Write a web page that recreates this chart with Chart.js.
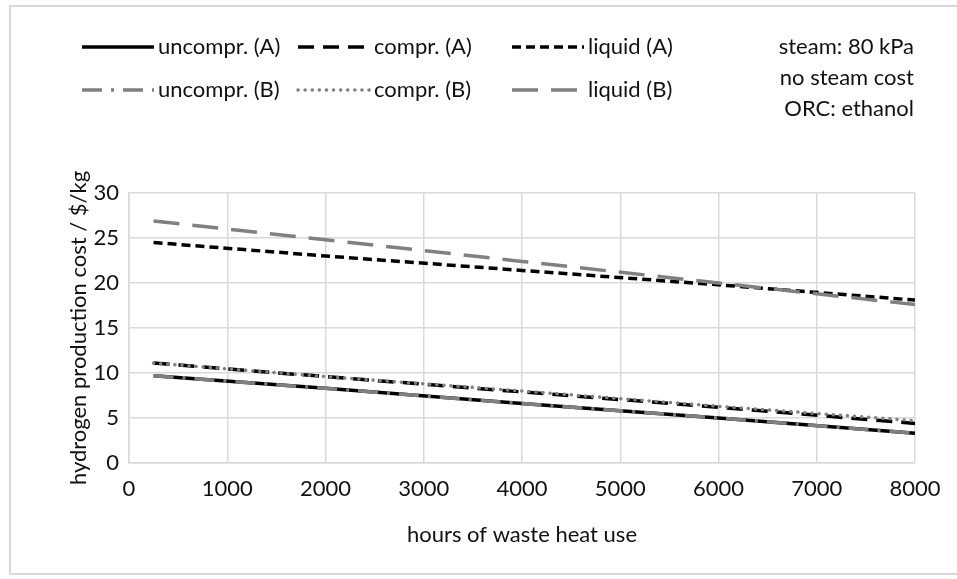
<!DOCTYPE html>
<html>
<head>
<meta charset="utf-8">
<script src="https://cdn.jsdelivr.net/npm/chart.js@4.4.1/dist/chart.umd.min.js"></script>
<style>
  html, body { margin: 0; padding: 0; background: #fff; }
  #wrap { position: absolute; left: 0; top: 0; width: 957px; height: 579px; }
</style>
</head>
<body>
<div id="wrap"><canvas id="hydrogenChart" width="957" height="579"></canvas></div>
<script>
// hours of waste heat use
const hours = [250, 2000, 4000, 6000, 8000];

// hydrogen production cost, $/kg
const uncomprA = [9.7, 8.3, 6.6, 5.0, 3.3];
const comprA = [11.1, 9.6, 7.9, 6.2, 4.4];
const liquidA = [24.5, 23.0, 21.4, 19.8, 18.1];
const uncomprB = [9.7, 8.3, 6.6, 5.0, 3.3];
const comprB = [11.1, 9.6, 8.0, 6.3, 4.7];
const liquidB = [26.9, 24.8, 22.4, 20.0, 17.6];

const seriesNames = ['uncompr. (A)', 'compr. (A)', 'liquid (A)', 'uncompr. (B)', 'compr. (B)', 'liquid (B)'];
const noteLines = ['steam: 80 kPa', 'no steam cost', 'ORC: ethanol'];

const FONT = 'Lato, "Open Sans", sans-serif';
const FS = 22;
const TEXT = '#111';
const GRID = '#d9d9d9';
const GRAY = '#808080';

function pts(vals) {
    return vals.map((v, i) => ({ x: hours[i], y: v }));
}

function line(label, vals, color, dash, cap, order) {
    return {
        label: label,
        data: pts(vals),
        borderColor: color,
        backgroundColor: color,
        borderWidth: 3.5,
        borderDash: dash,
        borderCapStyle: cap,
        pointRadius: 0,
        tension: 0,
        order: order
    };
}

const datasets = [
    line(seriesNames[0], uncomprA, '#000', [], 'butt', 2),
    line(seriesNames[1], comprA, '#000', [16, 9], 'butt', 2),
    line(seriesNames[2], liquidA, '#000', [9, 5], 'butt', 2),
    line(seriesNames[3], uncomprB, GRAY, [20, 9, 3, 9], 'butt', 1),
    line(seriesNames[4], comprB, GRAY, [0.1, 7], 'round', 1),
    line(seriesNames[5], liquidB, GRAY, [26, 13], 'butt', 1)
];

// Legend + notes + outer border
const extras = {
    id: 'extras',
    beforeDraw(chart) {
        const ctx = chart.ctx;
        ctx.save();
        ctx.fillStyle = '#fff';
        ctx.fillRect(0, 0, chart.width, chart.height);
        ctx.strokeStyle = GRID;
        ctx.lineWidth = 2;
        ctx.strokeRect(10, 6, 960, 568);
        ctx.restore();
    },
    afterDraw(chart) {
        const ctx = chart.ctx;
        const colX = [82, 298, 512];
        const rowY = [47, 90];
        ctx.save();
        ctx.font = FS + 'px ' + FONT;
        ctx.textBaseline = 'middle';
        chart.data.datasets.forEach((ds, i) => {
            const x = colX[i % 3];
            const y = rowY[Math.floor(i / 3)];
            ctx.beginPath();
            ctx.strokeStyle = ds.borderColor;
            ctx.lineWidth = ds.borderWidth;
            ctx.lineCap = ds.borderCapStyle;
            ctx.setLineDash(ds.borderDash);
            ctx.moveTo(x, y);
            ctx.lineTo(x + 72, y);
            ctx.stroke();
            ctx.setLineDash([]);
            ctx.fillStyle = TEXT;
            ctx.textAlign = 'left';
            ctx.fillText(ds.label, x + 76, y);
        });
        ctx.textAlign = 'right';
        noteLines.forEach((t, i) => ctx.fillText(t, 914, 47 + i * 31));
        ctx.restore();
    }
};

const config = {
    type: 'line',
    data: { datasets: datasets },
    options: {
        responsive: false,
        animation: false,
        layout: { padding: { left: 50, right: 42, top: 193, bottom: 20 } },
        plugins: {
            legend: { display: false },
            tooltip: { enabled: false }
        },
        scales: {
            x: {
                type: 'linear',
                min: 0,
                max: 8000,
                ticks: {
                    stepSize: 1000,
                    color: TEXT,
                    font: { family: FONT, size: FS },
                    padding: 13,
                    callback: (v) => String(v)
                },
                grid: { color: GRID, lineWidth: 1.5, drawTicks: false },
                border: { color: GRID, width: 1.5 },
                title: {
                    display: true,
                    text: 'hours of waste heat use',
                    color: TEXT,
                    font: { family: FONT, size: FS },
                    padding: { top: 0, bottom: 11 }
                },
                afterFit: (s) => { s.height = 96; }
            },
            y: {
                min: 0,
                max: 30,
                ticks: { stepSize: 5, color: TEXT, font: { family: FONT, size: FS }, padding: 10 },
                grid: { color: GRID, lineWidth: 1.5, drawTicks: false },
                border: { color: GRID, width: 1.5 },
                title: {
                    display: true,
                    text: 'hydrogen production cost / $/kg',
                    color: TEXT,
                    font: { family: FONT, size: FS },
                    padding: { top: 16, bottom: 0 }
                },
                afterFit: (s) => { s.width = 79; }
            }
        }
    },
    plugins: [extras]
};

window.onload = function () {
    var ctx = document.getElementById('hydrogenChart').getContext('2d');
    new Chart(ctx, config);
};
</script>
</body>
</html>
